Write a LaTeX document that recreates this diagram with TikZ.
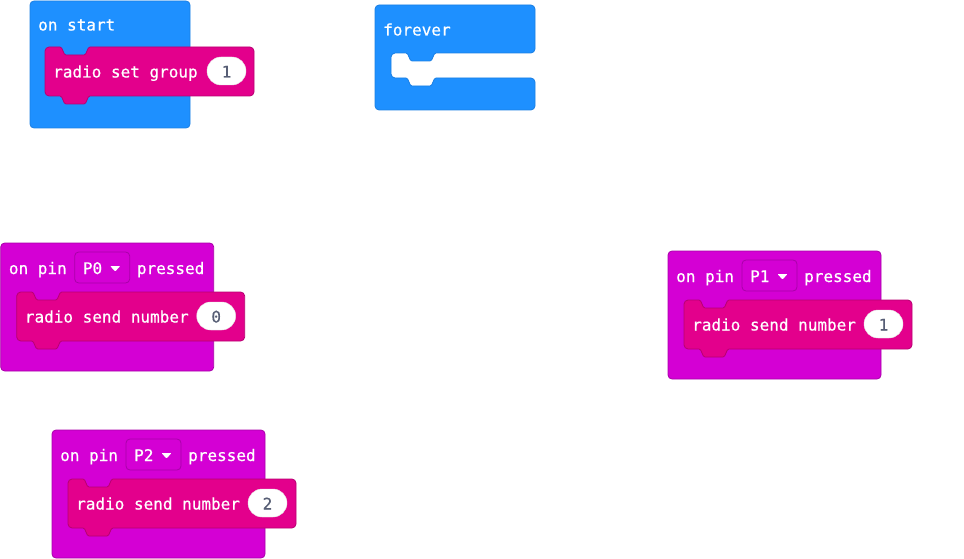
\documentclass[tikz,border=0pt]{standalone}
\usepackage{fontspec}
\newfontface\blockfont[FakeBold=0.5]{DejaVu Sans Mono}
\definecolor{basicblue}{HTML}{1E90FF}
\definecolor{basicdark}{HTML}{1B7FE3}
\definecolor{inputpurple}{HTML}{D400D4}
\definecolor{inputdark}{HTML}{A900A9}
\definecolor{radiopink}{HTML}{E3008C}
\definecolor{radiodark}{HTML}{B80072}
\definecolor{valgray}{HTML}{575E75}
\tikzset{
  blocktext/.style={anchor=base west, inner sep=0pt, text=white, font=\blockfont\fontsize{16}{16}\selectfont},
  valtext/.style={anchor=base, inner sep=0pt, text=valgray, font=\blockfont\fontsize{16}{16}\selectfont},
  blueblock/.style={fill=basicblue, draw=basicdark, line width=0.8pt},
  inputblock/.style={fill=inputpurple, draw=inputdark, line width=0.8pt},
  radioshape/.style={fill=radiopink, draw=radiodark, line width=0.8pt},
  dropbox/.style={fill=inputpurple, draw=inputdark, line width=0.8pt, rounded corners=4pt},
  ovalbox/.style={fill=white, draw=white!90!black, line width=0.4pt, rounded corners=14pt},
}
% statement block with top notch and bottom tab: #1 L, #2 T, #3 R, #4 B
\newcommand\stmtpath[4]{%
  (#1,#2+4) .. controls (#1,#2+2) and (#1+2,#2) .. (#1+4,#2)
  -- (#1+15,#2) .. controls (#1+18,#2) and (#1+18,#2+8) .. (#1+21,#2+8)
  -- (#1+39,#2+8) .. controls (#1+42,#2+8) and (#1+42,#2) .. (#1+45,#2)
  -- (#3-4,#2) .. controls (#3-2,#2) and (#3,#2+2) .. (#3,#2+4)
  -- (#3,#4-4) .. controls (#3,#4-2) and (#3-2,#4) .. (#3-4,#4)
  -- (#1+45,#4) .. controls (#1+42,#4) and (#1+42,#4+8) .. (#1+39,#4+8)
  -- (#1+21,#4+8) .. controls (#1+18,#4+8) and (#1+18,#4) .. (#1+15,#4)
  -- (#1+4,#4) .. controls (#1+2,#4) and (#1,#4-2) .. (#1,#4-4) -- cycle}
% radio block: #1 name, #2 L, #3 T, #4 R, #5 B, #6 text, #7 number, #8 oval left
\newcommand\radioblk[8]{%
  \draw[radioshape] \stmtpath{#2}{#3}{#4}{#5};
  \node[blocktext] (#1text) at (#2+8,#3+30.5) {#6};
  \draw[ovalbox] (#8,#3+10) rectangle (#8+39,#3+38);
  \node[valtext] (#1val) at (#8+19.5,#3+30.5) {#7};
}
% pin event: #1 name, #2 x, #3 y, #4 pin, #5 number
\newcommand\pinevt[5]{%
  \draw[inputblock, rounded corners=4pt] (#2,#3) rectangle (#2+213,#3+128);
  \node[blocktext] (#1on) at (#2+8,#3+31) {on pin};
  \draw[dropbox] (#2+74,#3+9) rectangle (#2+129,#3+40);
  \node[blocktext] (#1pin) at (#2+82,#3+31) {#4};
  \fill[white, rounded corners=0.8pt] (#2+109.5,#3+23) -- (#2+119.5,#3+23) -- (#2+114.5,#3+28.5) -- cycle;
  \node[blocktext] (#1pressed) at (#2+136,#3+31) {pressed};
  \radioblk{#1r}{#2+16}{#3+49}{#2+244}{#3+98}{radio send number}{#5}{#2+196}
}
\begin{document}
\begin{tikzpicture}[x=1pt,y=-1pt]
\useasboundingbox (0,0) rectangle (964,559);
% on start
\draw[blueblock, rounded corners=4pt] (30,1) rectangle (190,128);
\node[blocktext] (onstart) at (38,30.5) {on start};
\radioblk{grp}{45}{47}{254}{96}{radio set group}{1}{207}
% forever
\draw[blueblock] (375,9) .. controls (375,7) and (377,5) .. (379,5)
  -- (531,5) .. controls (533,5) and (535,7) .. (535,9)
  -- (535,49) .. controls (535,51) and (533,53) .. (531,53)
  -- (436,53) .. controls (433,53) and (433,61) .. (430,61)
  -- (412,61) .. controls (409,61) and (409,53) .. (406,53)
  -- (395,53) .. controls (393,53) and (391,55) .. (391,57)
  -- (391,74) .. controls (391,76) and (393,78) .. (395,78)
  -- (406,78) .. controls (409,78) and (409,86) .. (412,86)
  -- (430,86) .. controls (433,86) and (433,78) .. (436,78)
  -- (531,78) .. controls (533,78) and (535,80) .. (535,82)
  -- (535,106) .. controls (535,108) and (533,110) .. (531,110)
  -- (379,110) .. controls (377,110) and (375,108) .. (375,106) -- cycle;
\node[blocktext] (forever) at (383,35.5) {forever};
% pin events
\pinevt{pa}{0.7}{243}{P0}{0}
\pinevt{pb}{668}{251}{P1}{1}
\pinevt{pc}{52}{430}{P2}{2}
\end{tikzpicture}
\end{document}
